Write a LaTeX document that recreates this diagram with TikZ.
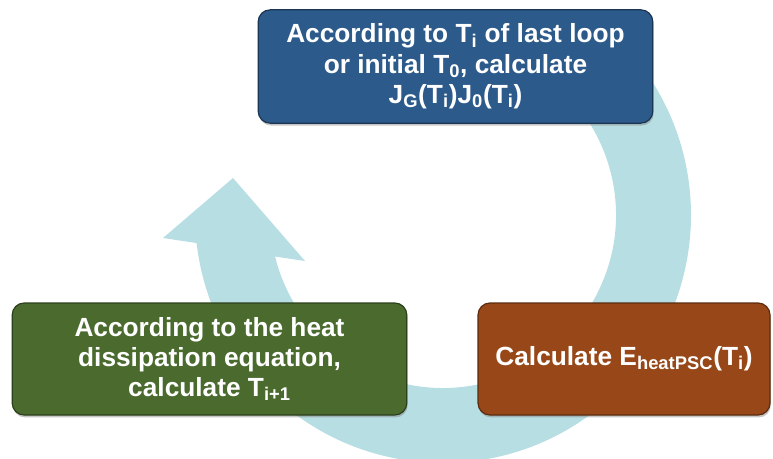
\documentclass[tikz,border=0pt]{standalone}
\usepackage{fontspec}
\setmainfont{Liberation Sans}
\usetikzlibrary{shadows,positioning}
\definecolor{LoopBand}{HTML}{B7DFE3}
\definecolor{LoopBlue}{HTML}{2C5A8A}
\definecolor{LoopGreen}{HTML}{4A6A2E}
\definecolor{LoopRust}{HTML}{984818}
\tikzset{
  loop step/.style={
    draw=#1!60!black,
    fill=#1,
    text=white,
    rounded corners=9pt,
    align=center,
    line width=0.9pt,
    inner sep=0pt,
    font=\fontsize{19.7}{22.8}\selectfont\bfseries,
    drop shadow={opacity=0.45,shadow xshift=0.6pt,shadow yshift=-1.8pt}
  },
  loop band/.style={fill=LoopBand,draw=none}
}

\begin{document}
\begin{tikzpicture}[x=0.75pt,y=0.75pt]
  \useasboundingbox (0,0) rectangle (773,-459);
  \coordinate (hub) at (443,-215);

  \fill[loop band,shift={(hub)}] (45:248) arc[start angle=45,end angle=-173.5,radius=248]
    -- (-280,-23) -- (-210,37) -- (-138,-46) -- (-166.1:173)
    arc[start angle=-166.1,end angle=45,radius=173] -- cycle;

  \node[loop step=LoopBlue,minimum width=296pt,minimum height=85pt] (lastloop) at (455.5,-66.5)
    {According to T\textsubscript{i} of last loop\\or initial T\textsubscript{0}, calculate\\J\textsubscript{G}(T\textsubscript{i})J\textsubscript{0}(T\textsubscript{i})};
  \node[loop step=LoopGreen,minimum width=296pt,minimum height=84pt] (heat) at (209.5,-359)
    {According to the heat\\dissipation equation,\\calculate T\textsubscript{i+1}};
  \node[loop step=LoopRust,minimum width=219pt,minimum height=84pt] (energy) at (624,-359)
    {Calculate E\textsubscript{heatPSC}(T\textsubscript{i})};
\end{tikzpicture}
\end{document}
